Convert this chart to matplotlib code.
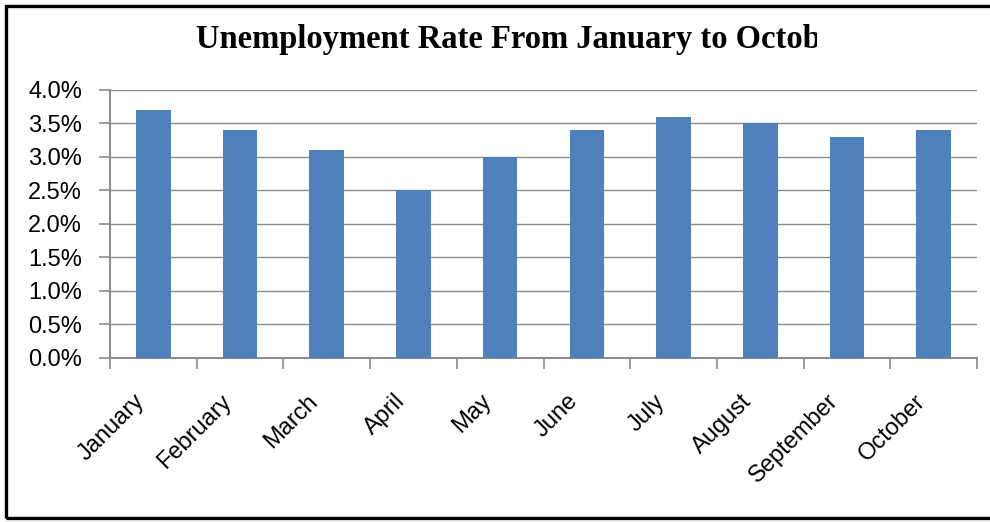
import matplotlib.pyplot as plt
from matplotlib.patches import Rectangle
from matplotlib.ticker import PercentFormatter, FixedLocator
from matplotlib.transforms import ScaledTranslation
import numpy as np

months = ["January", "February", "March", "April", "May",
          "June", "July", "August", "September", "October"]
rates = [3.7, 3.4, 3.1, 2.5, 3.0, 3.4, 3.6, 3.5, 3.3, 3.4]
y_ticks = [0.0, 0.5, 1.0, 1.5, 2.0, 2.5, 3.0, 3.5, 4.0]

grey = "#8c8c8c"

fig = plt.figure(figsize=(9.9, 5.22), dpi=100)
ax = fig.add_axes([0.1111, 0.3147, 0.8758, 0.5129])

x = np.arange(len(months))
ax.bar(x, rates, width=0.4, color="#4F81BD", zorder=3)

ax.set_xlim(-0.5, len(months) - 0.5)
ax.set_ylim(0, 4.0)
ax.set_yticks(y_ticks)
ax.yaxis.set_major_formatter(PercentFormatter(decimals=1))
ax.grid(axis="y", color=grey, linewidth=1.0, zorder=0)

ax.set_xticks(x)
ax.set_xticklabels(months, rotation=45, ha="right", va="center",
                   rotation_mode="anchor")
ax.xaxis.set_minor_locator(FixedLocator(np.arange(-0.5, len(months), 1.0)))
ax.tick_params(axis="x", which="major", length=0, pad=29)
ax.tick_params(axis="x", which="minor", length=8, width=1.2, color=grey, direction="out")
ax.tick_params(axis="y", length=8, width=1.2, color=grey, pad=12)

shift = ScaledTranslation(-12 / 100, 0, fig.dpi_scale_trans)
for lab in ax.get_xticklabels():
    lab.set_transform(lab.get_transform() + shift)

for lab in ax.get_xticklabels() + ax.get_yticklabels():
    lab.set_fontfamily("Liberation Sans")
    lab.set_fontsize(17)

for side in ["top", "right"]:
    ax.spines[side].set_visible(False)
for side in ["left", "bottom"]:
    ax.spines[side].set_color(grey)
    ax.spines[side].set_linewidth(1.5)

# title is cut off at the right in the original
title = fig.text(0.198, 0.908, "Unemployment Rate From January to October",
                 fontfamily="Liberation Serif", fontweight="bold", fontsize=23.5,
                 ha="left", va="baseline")
clip = Rectangle((0, 0), 817 / 990, 1, transform=fig.transFigure)
title.set_clip_path(clip)
title.set_clip_on(True)

# outer frame
fig.patches.append(Rectangle((6 / 990, 4 / 522), 1.2, 512 / 522,
                             transform=fig.transFigure, fill=False,
                             edgecolor="black", linewidth=2.4, clip_on=False))

fig.savefig("out.png", dpi=100)
